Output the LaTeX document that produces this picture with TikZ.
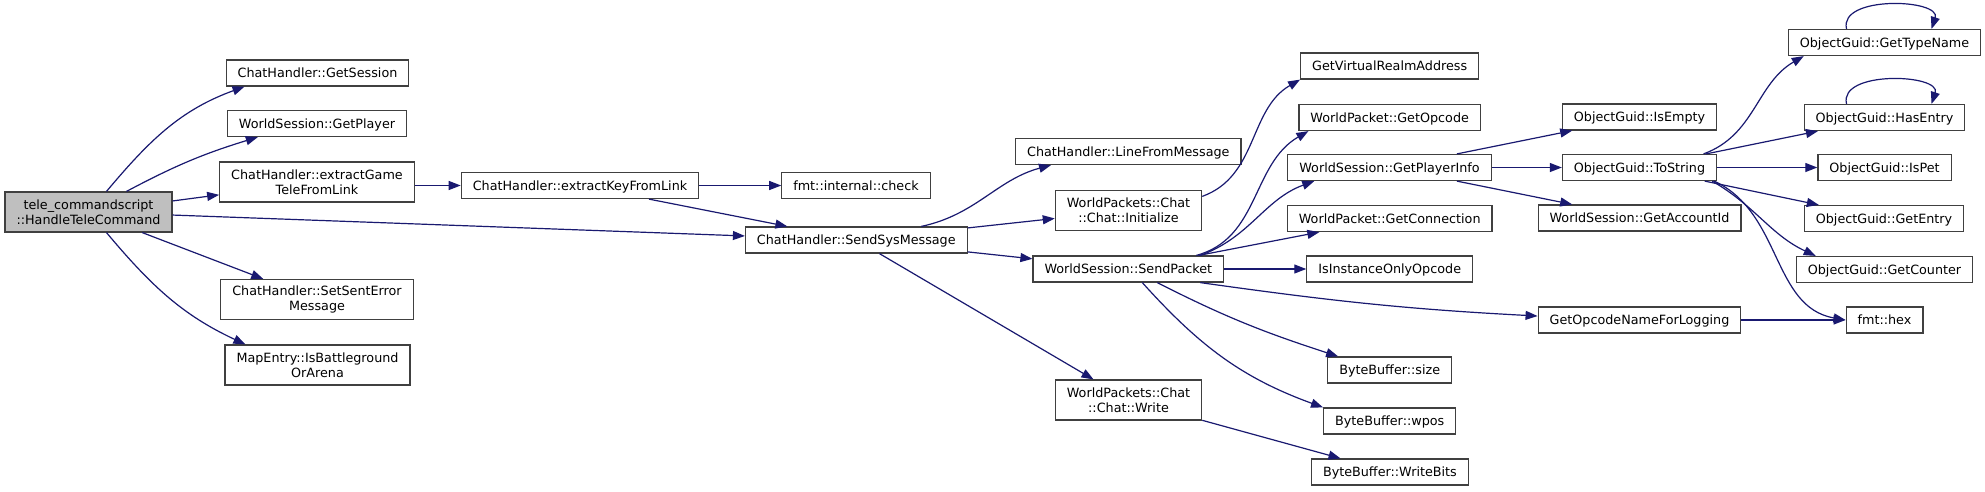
\documentclass[tikz,border=0pt]{standalone}
\usepackage{fontspec}
\setmainfont{DejaVu Sans}
\usepackage{xcolor}
\usetikzlibrary{arrows.meta}
\definecolor{edgeblue}{HTML}{191970}
\definecolor{boxgrey}{HTML}{404040}
\definecolor{rootgrey}{HTML}{BFBFBF}
\begin{document}
\begin{tikzpicture}[x=1pt, y=1pt, >={Triangle[length=12pt, width=9pt]},
			line width=1.2pt,
			every path/.style={draw=edgeblue},
			fn/.style={draw=boxgrey, fill=white, inner xsep=11.5pt, inner ysep=0pt,
				minimum height=26pt, text height=11pt, text depth=2pt,
				font=\fontsize{12.75}{15}\selectfont},
			fntwo/.style={draw=boxgrey, fill=white, inner xsep=11.5pt, inner ysep=0pt,
				minimum height=40pt, align=center,
				font=\fontsize{12.75}{15}\selectfont}]
		\path[use as bounding box, fill=white, draw=none] (0,0) rectangle (1985,-491);

		% caller
		\node (tele) [fntwo, fill=rootgrey] at (88.5,-212) {tele\_commandscript\\::HandleTeleCommand};

		\node (gses) [fn] at (317.5,-73) {ChatHandler::GetSession};
		\node (gply) [fn] at (317,-123.5) {WorldSession::GetPlayer};
		\node (xgame) [fntwo] at (317,-182) {ChatHandler::extractGame\\TeleFromLink};
		\node (serr) [fntwo] at (317,-299.5) {ChatHandler::SetSentError\\Message};
		\node (bgnd) [fntwo] at (317.5,-365) {MapEntry::IsBattleground\\OrArena};

		\node (xkey) [fn] at (580,-185.5) {ChatHandler::extractKeyFromLink};
		\node (chk) [fn] at (856,-185.5) {fmt::internal::check};
		\node (ssys) [fn] at (856.3,-240) {ChatHandler::SendSysMessage};

		\node (line) [fn] at (1128.3,-151.5) {ChatHandler::LineFromMessage};
		\node (init) [fntwo] at (1128.5,-210.5) {WorldPackets::Chat\\::Chat::Initialize};
		\node (spkt) [fn] at (1128.3,-269) {WorldSession::SendPacket};
		\node (wrt) [fntwo] at (1128.5,-400) {WorldPackets::Chat\\::Chat::Write};

		\node (vrlm) [fn] at (1389.7,-66) {GetVirtualRealmAddress};
		\node (gopc) [fn] at (1389.7,-117.5) {WorldPacket::GetOpcode};
		\node (ginf) [fn] at (1389.5,-167.5) {WorldSession::GetPlayerInfo};
		\node (gcon) [fn] at (1389.7,-218.5) {WorldPacket::GetConnection};
		\node (inst) [fn] at (1389.7,-269) {IsInstanceOnlyOpcode};
		\node (bsize) [fn] at (1389.7,-370) {ByteBuffer::size};
		\node (wpos) [fn] at (1389.7,-421) {ByteBuffer::wpos};
		\node (bits) [fn] at (1389.9,-472) {ByteBuffer::WriteBits};

		\node (emp) [fn] at (1639.5,-117) {ObjectGuid::IsEmpty};
		\node (tstr) [fn] at (1639.5,-167.5) {ObjectGuid::ToString};
		\node (acc) [fn] at (1639.5,-218) {WorldSession::GetAccountId};
		\node (opnm) [fn] at (1639.5,-320) {GetOpcodeNameForLogging};

		\node (tnam) [fn] at (1884.5,-42.5) {ObjectGuid::GetTypeName};
		\node (hent) [fn] at (1884.5,-117.5) {ObjectGuid::HasEntry};
		\node (pet) [fn] at (1884.5,-167.5) {ObjectGuid::IsPet};
		\node (gent) [fn] at (1884,-218.5) {ObjectGuid::GetEntry};
		\node (cnt) [fn] at (1884.5,-269.5) {ObjectGuid::GetCounter};
		\node (hex) [fn] at (1884.5,-320) {fmt::hex};

		% calls
		\draw[->] ([xshift=18pt]tele.north) to[out=50, in=200] ([xshift=19pt]gses.south west);
		\draw[->] ([xshift=38pt]tele.north) to[out=28, in=197] ([xshift=31pt]gply.south west);
		\draw[->] (tele) -- (xgame);
		\draw[->] (tele) -- (ssys);
		\draw[->] (tele) -- (serr);
		\draw[->] ([xshift=18pt]tele.south) to[out=-50, in=155] ([xshift=21pt]bgnd.north west);

		\draw[->] (xgame.east |- xkey) -- (xkey);
		\draw[->] (xkey) -- (chk);
		\draw[->] (xkey) -- (ssys);

		\draw[->] ([xshift=65pt]ssys.north) to[out=12, in=195] ([xshift=36pt]line.south west);
		\draw[->] (ssys) -- (init);
		\draw[->] (ssys) -- (spkt);
		\draw[->] (ssys) -- (wrt);

		\draw[->] ([yshift=-6.5pt]init.north east) to[out=20, in=210] (vrlm.south west);
		\draw[->] ([xshift=68pt]spkt.north) to[out=15, in=210] ([xshift=10pt]gopc.south west);
		\draw[->] ([xshift=72pt]spkt.north) to[out=20, in=200] ([xshift=27pt]ginf.south west);
		\draw[->] (spkt) -- (gcon);
		\draw[->] (spkt) -- (inst);
		\draw[->] ([xshift=72pt]spkt.south) to[out=-8, in=177] ([yshift=4pt]opnm.west);
		\draw[->] ([xshift=29pt]spkt.south) to[out=-27, in=162] ([xshift=11pt]bsize.north west);
		\draw[->] ([xshift=14pt]spkt.south) to[out=-48, in=160] (wpos.north west);
		\draw[->] (wrt) -- (bits);

		\draw[->] (ginf) -- (emp);
		\draw[->] (ginf) -- (tstr);
		\draw[->] (ginf) -- (acc);

		\draw[->] ([xshift=64pt]tstr.north) to[out=20, in=210] ([xshift=16pt]tnam.south west);
		\draw[->] (tstr) -- (hent);
		\draw[->] (tstr) -- (pet);
		\draw[->] (tstr) -- (gent);
		\draw[->] ([xshift=-5pt]tstr.south east) to[out=-30, in=155] ([xshift=20pt]cnt.north west);
		\draw[->] ([xshift=-3pt]tstr.south east) to[out=-25, in=170] (hex.west);
		\draw[->] (opnm) -- (hex);

		% recursion
		\draw[->] ([xshift=-38pt]tnam.north) .. controls +(-8,34) and +(10,30) .. ([xshift=47pt]tnam.north);
		\draw[->] ([xshift=-38pt]hent.north) .. controls +(-8,34) and +(10,30) .. ([xshift=47pt]hent.north);
	\end{tikzpicture}
\end{document}
